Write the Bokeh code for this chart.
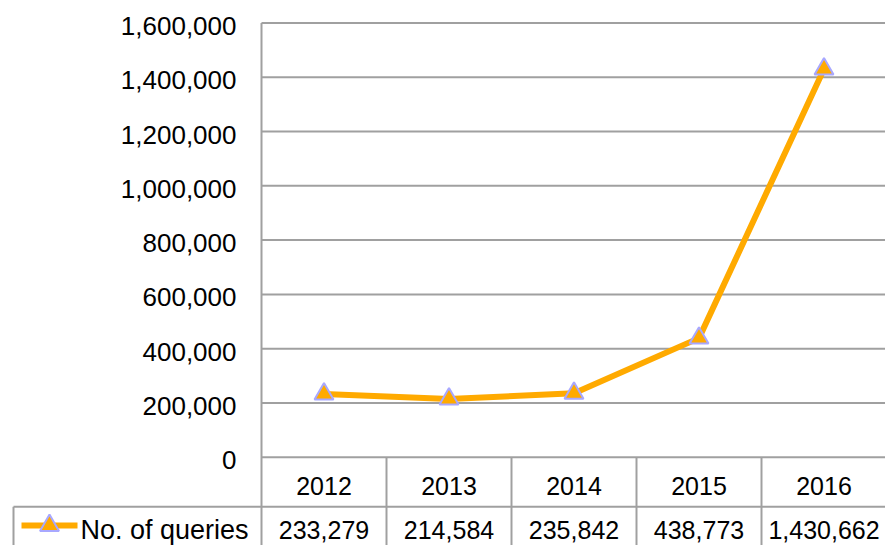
from bokeh.plotting import figure
from bokeh.models import Range1d, ColumnDataSource
from bokeh.core.properties import value
from bokeh.embed import file_html
from bokeh.resources import INLINE

# ---- data ----
years = ["2012", "2013", "2014", "2015", "2016"]
queries = [233279, 214584, 235842, 438773, 1430662]
series_name = "No. of queries"
y_ticks = [0, 200000, 400000, 600000, 800000, 1000000, 1200000, 1400000, 1600000]

FONT = "Liberation Sans"
GRID = "#a0a0a0"
ORANGE = "#FFAA00"
MARK_LINE = "#A8A8FF"

W, H = 885, 545
COL_PX = 125.0          # width of one category column in pixels
LEFT_PX = 261.0         # pixel x of the plot area's left edge
ZERO_PX = 456.7         # pixel y of value 0
TOP_PX = 22.5           # pixel y of the top tick
K = y_ticks[-1] / (ZERO_PX - TOP_PX)   # data units per pixel


def px_x(px):
    return (px - LEFT_PX) / COL_PX


def px_y(py):
    return (ZERO_PX - py) * K


n = len(years)
xs = [i + 0.5 for i in range(n)]

p = figure(width=W, height=H, output_backend="svg", toolbar_location=None, tools="",
           x_range=Range1d(px_x(0), px_x(W)), y_range=Range1d(px_y(H), px_y(0)),
           min_border_left=0, min_border_right=0, min_border_top=0, min_border_bottom=0)
p.outline_line_color = None
p.axis.visible = False
p.grid.visible = False
p.background_fill_color = "white"
p.border_fill_color = "white"

x_end = px_x(W + 2)
bottom = px_y(H + 2)

# horizontal gridlines
p.segment(x0=[0.0] * len(y_ticks), y0=y_ticks, x1=[x_end] * len(y_ticks), y1=y_ticks,
          line_color=GRID, line_width=2)
# y tick labels
p.text(x=[px_x(236)] * len(y_ticks), y=y_ticks, text=[f"{v:,}" for v in y_ticks],
       text_font=value(FONT), text_font_size="26px", text_align="right",
       text_baseline="middle", text_color="black", y_offset=3)

# plot-area left edge, continuing through the table
p.segment(x0=[0.0], y0=[y_ticks[-1]], x1=[0.0], y1=[bottom], line_color=GRID, line_width=2)
# table column separators
sep = [float(i) for i in range(1, n)]
p.segment(x0=sep, y0=[0] * len(sep), x1=sep, y1=[bottom] * len(sep), line_color=GRID, line_width=2)
# table row line and legend cell border
row_y = px_y(506.3)
legend_left = px_x(13)
p.segment(x0=[legend_left], y0=[row_y], x1=[x_end], y1=[row_y], line_color=GRID, line_width=2)
p.segment(x0=[legend_left], y0=[row_y], x1=[legend_left], y1=[bottom], line_color=GRID, line_width=2)

# series
src = ColumnDataSource(dict(x=xs, y=queries))
p.line("x", "y", source=src, line_color=ORANGE, line_width=6)
p.scatter("x", "y", source=src, marker="triangle", size=19, fill_color=ORANGE,
          line_color=MARK_LINE, line_width=2)

# table texts
p.text(x=xs, y=[px_y(485)] * n, text=years, text_font=value(FONT), text_font_size="25px",
       text_align="center", text_baseline="middle", text_color="black")
p.text(x=xs, y=[px_y(529)] * n, text=[f"{v:,}" for v in queries], text_font=value(FONT),
       text_font_size="25px", text_align="center", text_baseline="middle", text_color="black")

# legend key
lx0, lx1 = px_x(21), px_x(77)
ly = px_y(525)
p.line(x=[lx0, lx1], y=[ly, ly], line_color=ORANGE, line_width=6)
p.scatter(x=[(lx0 + lx1) / 2], y=[ly], marker="triangle", size=19, fill_color=ORANGE,
          line_color=MARK_LINE, line_width=2)
p.text(x=[px_x(80)], y=[px_y(529)], text=[series_name], text_font=value(FONT),
       text_font_size="27px", text_align="left", text_baseline="middle", text_color="black")

open("out.html", "w").write(file_html(p, INLINE))
